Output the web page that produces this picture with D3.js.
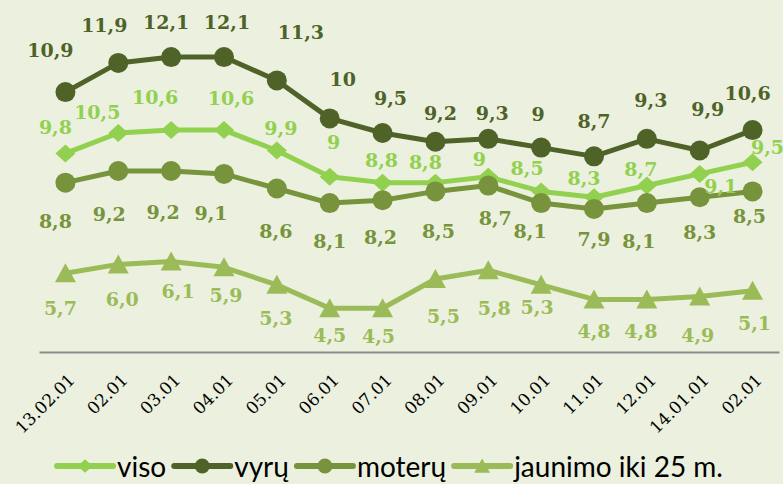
<!DOCTYPE html>
<html>
<head>
<meta charset="utf-8">
<script src="https://cdn.jsdelivr.net/npm/d3@7"></script>
<style>
  body { margin: 0; background: #ebf1de; }
  svg { display: block; }
</style>
</head>
<body>
<svg id="chart" width="783" height="484"></svg>
<script>
const dates = ["13.02.01", "02.01", "03.01", "04.01", "05.01", "06.01", "07.01",
  "08.01", "09.01", "10.01", "11.01", "12.01", "14.01.01", "02.01"];

// plotted values (read from the point positions)
const viso = [9.8, 10.5, 10.6, 10.6, 9.9, 9.0, 8.8, 8.8, 9.0, 8.5, 8.3, 8.7, 9.1, 9.5];
const vyru = [11.9, 12.9, 13.1, 13.1, 12.3, 11.0, 10.5, 10.2, 10.3, 10.0, 9.7, 10.3, 9.9, 10.6];
const moteru = [8.8, 9.2, 9.2, 9.1, 8.6, 8.1, 8.2, 8.5, 8.7, 8.1, 7.9, 8.1, 8.3, 8.5];
const jaunimo = [5.7, 6.0, 6.1, 5.9, 5.3, 4.5, 4.5, 5.5, 5.8, 5.3, 4.8, 4.8, 4.9, 5.1];

// data labels as they are printed on the chart
const visoLabels = ["9,8", "10,5", "10,6", "10,6", "9,9", "9", "8,8", "8,8", "9", "8,5", "8,3", "8,7", "9,1", "9,5"];
const vyruLabels = ["10,9", "11,9", "12,1", "12,1", "11,3", "10", "9,5", "9,2", "9,3", "9", "8,7", "9,3", "9,9", "10,6"];
const moteruLabels = ["8,8", "9,2", "9,2", "9,1", "8,6", "8,1", "8,2", "8,5", "8,7", "8,1", "7,9", "8,1", "8,3", "8,5"];
const jaunimoLabels = ["5,7", "6,0", "6,1", "5,9", "5,3", "4,5", "4,5", "5,5", "5,8", "5,3", "4,8", "4,8", "4,9", "5,1"];

const seriesNames = ["viso", "vyrų", "moterų", "jaunimo iki 25 m."];

// label offsets from their point (hand placed in the original)
const visoOff = [[-10,-26],[-21,-21],[-16,-33],[7,-32],[4,-23],[4,-35],[-1,-23],[-10,-21],[-9,-18],[-14,-23],[-10,-19],[-6,-17],[21,12],[15,-15]];
const vyruOff = [[-15,-42],[-14,-38],[-5,-35],[3,-35],[24,-48],[13,-39],[8,-35],[5,-29],[4,-26],[-3,-34],[0,-35],[4,-39],[8,-42],[-5,-37]];
const moteruOff = [[-10,38],[-9,43],[-8,41],[-13,39],[-1,43],[0,38],[-2,37],[3,40],[7,32],[-11,28],[0,30],[-8,38],[0,35],[-3,25]];
const jaunimoOff = [[-5,35],[4,35],[7,30],[2,28],[-1,33],[0,27],[-4,28],[8,37],[6,38],[-4,22],[0,32],[-6,32],[-2,38],[2,32]];

const diamond = s => `M0,${-9*s}L${10*s},0L0,${9*s}L${-10*s},0Z`;
const triangle = s => `M0,${-10*s}L${10.5*s},${9*s}L${-10.5*s},${9*s}Z`;
const circle = s => d3.symbol(d3.symbolCircle, Math.PI * 100 * s * s)();

const series = [
  { name: seriesNames[0], values: viso, labels: visoLabels, off: visoOff, color: "#92d050", marker: diamond },
  { name: seriesNames[1], values: vyru, labels: vyruLabels, off: vyruOff, color: "#4f6228", marker: circle },
  { name: seriesNames[2], values: moteru, labels: moteruLabels, off: moteruOff, color: "#77933c", marker: circle },
  { name: seriesNames[3], values: jaunimo, labels: jaunimoLabels, off: jaunimoOff, color: "#9bbb59", marker: triangle }
];

const svg = d3.select("#chart");

const x = d3.scalePoint()
  .domain(d3.range(dates.length))
  .range([39, 779])
  .padding(0.5);

const y = d3.scaleLinear()
  .domain([3, 14])
  .range([352, 30.8]);

// category axis
const xAxis = svg.append("g")
  .attr("transform", "translate(0,352)")
  .call(d3.axisBottom(x).tickSize(0).tickFormat(i => dates[i]));
xAxis.select(".domain").attr("stroke", "#8c8c8c").attr("stroke-width", 2);
xAxis.selectAll("text")
  .attr("font-family", "DejaVu Serif")
  .attr("font-size", 17)
  .attr("fill", "#000")
  .attr("text-anchor", "end")
  .attr("dy", null)
  .attr("y", 0)
  .attr("transform", "translate(10,29) rotate(-45)");

const line = d3.line()
  .x((d, i) => x(i))
  .y(d => y(d));

const g = svg.selectAll("g.series")
  .data(series)
  .join("g")
  .attr("class", "series");

g.append("path")
  .attr("d", d => line(d.values))
  .attr("fill", "none")
  .attr("stroke", d => d.color)
  .attr("stroke-width", 5)
  .attr("stroke-linejoin", "round");

g.selectAll("path.mark")
  .data(d => d.values.map((v, i) => ({ v, i, s: d })))
  .join("path")
  .attr("class", "mark")
  .attr("d", d => d.s.marker(1))
  .attr("transform", d => `translate(${x(d.i)},${y(d.v)})`)
  .attr("fill", d => d.s.color);

// data labels on top of everything
svg.append("g")
  .selectAll("g")
  .data(series)
  .join("g")
  .attr("fill", d => d.color)
  .selectAll("text")
  .data(d => d.values.map((v, i) => ({ v, i, s: d })))
  .join("text")
  .attr("x", d => x(d.i) + d.s.off[d.i][0])
  .attr("y", d => y(d.v) + d.s.off[d.i][1])
  .attr("text-anchor", "middle")
  .attr("dominant-baseline", "central")
  .attr("font-family", "DejaVu Serif")
  .attr("font-weight", "bold")
  .attr("font-size", 19)
  .text(d => d.s.labels[d.i]);

// legend
const legend = svg.append("g").attr("transform", "translate(0,466)");
const items = legend.selectAll("g")
  .data(series)
  .join("g");
items.append("line")
  .attr("x1", 0).attr("x2", 56)
  .attr("stroke", d => d.color)
  .attr("stroke-width", 6)
  .attr("stroke-linecap", "round");
items.append("path")
  .attr("d", d => d.marker(0.75))
  .attr("transform", "translate(28,0)")
  .attr("fill", d => d.color);
items.append("text")
  .attr("x", 60)
  .attr("dominant-baseline", "central")
  .attr("font-family", "Lato")
  .attr("font-size", 28)
  .attr("fill", "#000")
  .text(d => d.name);

let pos = 0;
const widths = [];
items.each(function () {
  const w = 60 + d3.select(this).select("text").node().getComputedTextLength();
  widths.push(w);
});
const total = d3.sum(widths) + 8 * (widths.length - 1);
pos = 390 - total / 2;
items.attr("transform", (d, i) => {
  const t = `translate(${pos},0)`;
  pos += widths[i] + 8;
  return t;
});
</script>
</body>
</html>
